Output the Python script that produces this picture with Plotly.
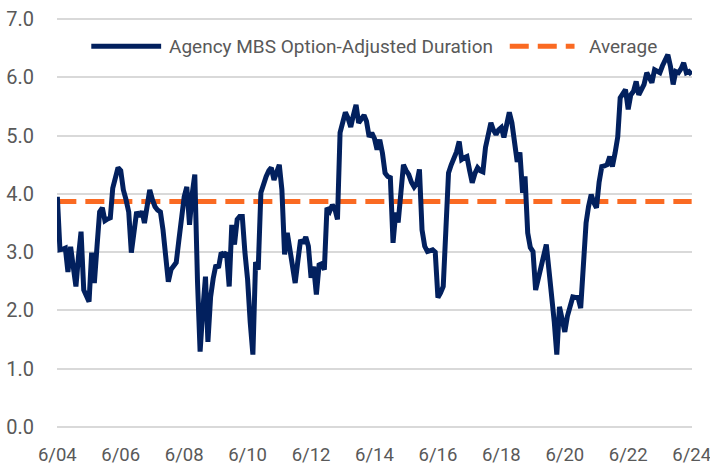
import pandas as pd
import plotly.graph_objects as go

# ─── Data (monthly, 6/2004 – 6/2024) ─────────────────────────────────────────
START_MONTH = "2004-06-01"
DURATION = [
    3.95, 3.04, 3.05, 3.07, 2.66, 3.09, 2.75, 2.41, 2.95, 3.35,
    2.35, 2.25, 2.15, 2.99, 2.47, 3.10, 3.69, 3.76, 3.54, 3.57,
    3.59, 4.10, 4.30, 4.45, 4.40, 4.07, 3.90, 3.69, 2.99, 3.35,
    3.69, 3.61, 3.70, 3.50, 3.85, 4.07, 3.90, 3.78, 3.72, 3.69,
    3.38, 2.87, 2.49, 2.70, 2.78, 2.82, 3.21, 3.60, 3.95, 4.12,
    3.47, 4.00, 4.33, 2.50, 1.29, 2.00, 2.58, 1.46, 2.23, 2.55,
    2.78, 2.73, 2.99, 2.95, 2.99, 2.41, 3.47, 3.13, 3.56, 3.61,
    3.61, 3.00, 2.53, 1.80, 1.24, 2.83, 2.70, 4.02, 4.20, 4.30,
    4.40, 4.45, 4.24, 4.40, 4.50, 4.07, 2.96, 3.33, 3.05, 2.83,
    2.47, 2.85, 3.21, 3.15, 3.26, 3.10, 2.56, 2.75, 2.27, 2.78,
    2.80, 2.70, 3.76, 3.70, 3.81, 3.75, 3.56, 5.05, 5.20, 5.40,
    5.30, 5.15, 5.35, 5.53, 5.22, 5.30, 5.35, 5.25, 4.98, 5.05,
    4.95, 4.76, 4.93, 4.70, 4.36, 4.30, 4.28, 3.16, 3.68, 3.51,
    4.00, 4.50, 4.40, 4.33, 4.20, 4.12, 4.18, 4.42, 3.38, 3.10,
    3.01, 3.03, 3.04, 3.00, 2.22, 2.30, 2.41, 3.40, 4.36, 4.50,
    4.59, 4.72, 4.90, 4.59, 4.62, 4.64, 4.40, 4.19, 4.35, 4.45,
    4.40, 4.38, 4.80, 5.02, 5.22, 5.10, 5.02, 5.10, 5.14, 4.97,
    5.20, 5.40, 5.22, 4.80, 4.55, 4.71, 4.02, 4.30, 3.33, 3.08,
    3.01, 2.35, 2.55, 2.75, 2.95, 3.13, 2.70, 2.30, 1.80, 1.24,
    2.06, 1.85, 1.63, 1.90, 2.06, 2.23, 2.22, 2.22, 2.04, 2.90,
    3.50, 3.78, 3.99, 3.85, 3.76, 4.20, 4.47, 4.48, 4.50, 4.64,
    4.47, 4.70, 4.98, 5.65, 5.72, 5.79, 5.45, 5.70, 5.76, 5.93,
    5.70, 5.80, 5.88, 6.08, 6.00, 5.91, 6.13, 6.10, 6.08, 6.20,
    6.30, 6.39, 6.19, 5.88, 6.10, 6.08, 6.15, 6.25, 6.08, 6.10,
    6.05,
]
AVERAGE = 3.87

X_TICKS = ["2004-06-01", "2006-06-01", "2008-06-01", "2010-06-01", "2012-06-01",
           "2014-06-01", "2016-06-01", "2018-06-01", "2020-06-01", "2022-06-01",
           "2024-06-01"]
X_TICK_LABELS = ["6/04", "6/06", "6/08", "6/10", "6/12", "6/14", "6/16",
                 "6/18", "6/20", "6/22", "6/24"]
Y_TICKS = [0, 1, 2, 3, 4, 5, 6, 7]

NAVY = "#02205E"
ORANGE = "#FA6A22"
GREY_TEXT = "#595959"
FONT = "Roboto, sans-serif"

months = pd.date_range(START_MONTH, periods=len(DURATION), freq="MS")
pad = pd.Timedelta(days=4)

fig = go.Figure()
fig.add_trace(go.Scatter(
    x=[months[0], months[-1]], y=[AVERAGE, AVERAGE], mode="lines",
    name="Average", showlegend=False,
    line=dict(color=ORANGE, width=5, dash="19px,9px"),
))
fig.add_trace(go.Scatter(
    x=months, y=DURATION, mode="lines",
    name="Agency MBS Option-Adjusted Duration", showlegend=False,
    line=dict(color=NAVY, width=5),
))

# ─── Hand-drawn legend (long samples like the original) ──────────────────────
LEG_Y = 0.931
fig.add_shape(type="line", xref="paper", yref="paper",
              x0=0.054, x1=0.164, y0=LEG_Y, y1=LEG_Y,
              line=dict(color=NAVY, width=5))
fig.add_shape(type="line", xref="paper", yref="paper",
              x0=0.713, x1=0.815, y0=LEG_Y, y1=LEG_Y,
              line=dict(color=ORANGE, width=5, dash="19px,9px"))
fig.add_annotation(xref="paper", yref="paper", x=0.173, y=LEG_Y,
                   xanchor="left", yanchor="middle", showarrow=False,
                   text="Agency MBS Option-Adjusted Duration",
                   font=dict(size=19, color=GREY_TEXT, family=FONT))
fig.add_annotation(xref="paper", yref="paper", x=0.834, y=LEG_Y,
                   xanchor="left", yanchor="middle", showarrow=False,
                   text="Average",
                   font=dict(size=19, color=GREY_TEXT, family=FONT))

fig.update_xaxes(
    range=[months[0] - pad, months[-1] + pad],
    tickvals=X_TICKS, ticktext=X_TICK_LABELS,
    showgrid=False, zeroline=False, showline=False, ticks="",
    ticklabelstandoff=13, ticklabeloverflow="allow",
    tickfont=dict(size=18.5, color=GREY_TEXT, family=FONT),
)
fig.update_yaxes(
    range=[-0.02, 7.02], tickvals=Y_TICKS, tickformat=".1f",
    showgrid=True, gridcolor="#D9D9D9", gridwidth=1.5,
    zeroline=False, showline=False, ticks="",
    ticklabelstandoff=22,
    tickfont=dict(size=20, color=GREY_TEXT, family=FONT),
)
fig.update_layout(
    width=710, height=474,
    paper_bgcolor="white", plot_bgcolor="white",
    margin=dict(l=57, r=18, t=18, b=46, autoexpand=False),
    font=dict(family=FONT, color=GREY_TEXT),
)

fig.write_html("out.html", config={"displayModeBar": False},
               post_script="document.body.style.margin='0';")
